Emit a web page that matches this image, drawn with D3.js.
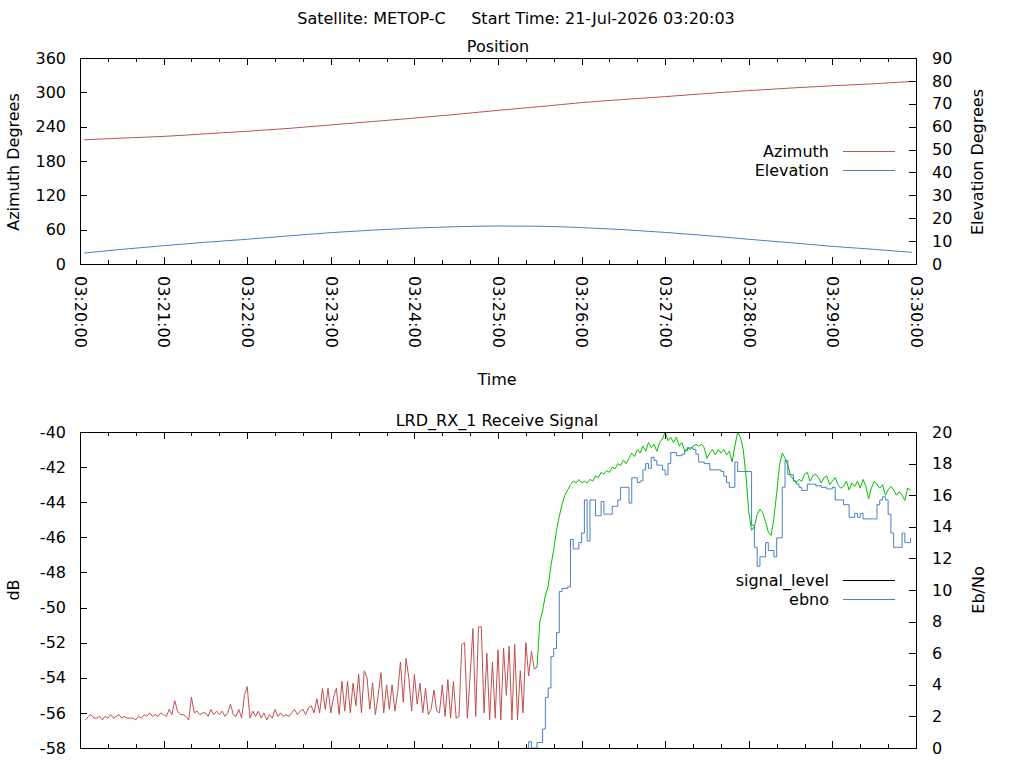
<!DOCTYPE html>
<html><head><meta charset="utf-8">
<script src="https://cdn.jsdelivr.net/npm/d3@7"></script>
<style>
html,body{margin:0;padding:0;background:#fff;}
svg{display:block;font-family:'DejaVu Sans',sans-serif;}
</style></head><body>
<svg id="c" width="1024" height="768"></svg>
<script>
// ---------------- DATA ----------------
const mainTitle = "Satellite: METOP-C     Start Time: 21-Jul-2026 03:20:03";
const topTitle = "Position";
const bottomTitle = "LRD_RX_1 Receive Signal";
const timeLabel = "Time";

// Position samples (seconds after 03:20:00)
const posTimes  = [3,30,60,90,120,150,180,210,240,270,300,330,360,390,420,450,480,510,540,570,597];
const azimuth   = [217,220,223,227.5,232,237,243,249,255,261.5,268.5,275,282,287.5,292.5,298,303,307.5,311.5,315,319];
const elevation = [4.8,6.4,8.0,9.5,10.8,12.3,13.7,14.8,15.7,16.3,16.6,16.5,15.9,15.0,13.8,12.4,10.8,9.3,7.7,6.4,5.1];

const azTicks = [0,60,120,180,240,300,360];
const elTicks = [0,10,20,30,40,50,60,70,80,90];
const dbTicks = [-58,-56,-54,-52,-50,-48,-46,-44,-42,-40];
const ebTicks = [0,2,4,6,8,10,12,14,16,18,20];

// Signal level (dB), sampled every 2 s starting at 4 s; receiver locked from 328 s
const signalStart = 4, signalStep = 2, lockTime = 328;
const signalLevel = [
 -56.4,-56.2,-56.1,-56.3,-56.3,-56.2,-56.4,-56.2,-56.3,-56.1,-56.3,-56.2,-56.1,-56.3,-56.2,-56.3,-56.3,-56.3,-56.4,-56.2,-56.3,-56.1,-56.2,-56.0,-56.2,-56.1,-56.2,-56.0,-56.1,
 -56.2,-55.8,-56.1,-55.3,-55.9,-56.1,-56.1,-56.2,-56.4,-55.1,-56.0,-55.9,-56.1,-56.0,-56.0,-56.2,-55.8,-56.1,-55.9,-56.1,-55.9,-56.2,-56.0,-55.5,-56.1,-56.2,-55.8,-56.3,-55.0,-54.5,
 -56.3,-55.9,-56.2,-55.9,-56.3,-56.0,-56.4,-56.1,-56.3,-55.8,-56.2,-56.0,-56.2,-56.1,-56.2,-56.0,-55.8,-56.1,-55.9,-55.8,-56.1,-55.7,-55.6,-56.0,
 -55.2,-56.0,-54.6,-55.8,-54.6,-56.0,-55.1,-54.6,-56.1,-54.2,-55.9,-54.2,-56.0,-54.3,-55.6,-53.8,-56.0,-53.6,-54.0,-55.8,-54.3,-56.1,-55.0,-53.7,-56.0,-54.4,-55.8,-54.4,-55.9,-54.8,
 -53.1,-55.4,-52.9,-54.0,-55.9,-53.8,-55.5,-54.3,-56.0,-54.6,-56.1,-55.8,-54.7,-55.9,-56.0,-54.4,
 -56.2,-54.1,-56.3,-54.2,-56.3,-56.2,-52.1,-52.0,-56.3,-53.9,-51.2,-56.2,-51.1,-51.1,-56.0,-52.6,-56.4,-53.1,-56.3,-52.4,-56.4,-52.3,-55.0,-52.2,-56.4,-52.1,-56.4,-53.6,-56.0,-52.0,
 -53.9,-52.5,-53.5,-53.4,
 -50.8,-50.2,-49.3,-48.8,-47.6,-46.7,-45.6,-44.8,-44.1,-43.6,-43.3,-43.0,-42.8,-42.9,-42.7,-42.9,-42.8,-42.9,-42.7,-42.8,
 -42.5,-42.6,-42.3,-42.4,-42.2,-42.3,-42.0,-42.1,-41.8,-41.9,-41.6,-41.8,-41.5,-41.2,-41.4,-41.0,-41.2,-40.8,-41.1,-40.6,
 -40.9,-40.7,-41.1,-40.6,-40.4,-40.0,-40.5,-40.3,-40.6,-40.3,-40.8,-40.6,-41.1,-40.9,-41.0,-40.8,-40.7,-40.8,-40.7,-40.9,
 -41.5,-41.2,-41.0,-41.3,-41.0,-41.2,-41.0,-41.3,-41.1,-41.7,-40.8,-40.0,-40.3,-41.0,-42.5,-44.6,-45.6,-45.4,-44.7,-44.4,
 -44.6,-45.1,-45.7,-45.9,-44.9,-43.5,-41.9,-41.2,-41.5,-41.9,-42.5,-42.7,-42.9,-42.7,-42.8,-42.4,-42.3,-42.8,-42.5,-42.4,
 -42.6,-42.9,-42.6,-42.5,-43.0,-42.8,-42.6,-43.0,-43.2,-43.1,-42.8,-43.3,-42.9,-43.1,-42.8,-43.2,-42.7,-43.1,-43.8,-43.2,
 -42.8,-43.0,-43.2,-43.0,-43.6,-43.3,-43.1,-43.3,-43.6,-43.4,-43.6,-43.9,-43.2,-43.3
];

// Eb/No, sampled every 2 s starting at 320 s
const ebnoStart = 320, ebnoStep = 2;
const ebno = [
 0.0,0.4,0.0,0.0,0.35,0.35,1.2,3.2,3.8,5.8,6.3,7.3,9.9,10.1,10.1,10.2,13.2,12.6,12.6,13.0,
 13.6,15.7,13.1,15.7,15.7,14.7,14.7,15.6,14.8,14.8,14.8,15.3,15.3,15.7,16.5,16.5,16.5,15.5,17.1,17.1,
 16.8,16.9,17.6,18.0,17.7,18.4,18.2,17.9,17.9,17.6,17.3,18.0,18.7,18.7,18.5,18.5,18.6,18.8,19.0,19.0,
 18.9,18.6,18.1,18.1,18.0,18.0,17.6,17.6,17.6,17.6,17.5,17.2,16.8,16.5,16.5,18.1,17.5,17.5,17.5,17.5,
 17.5,14.1,12.7,11.5,12.1,12.1,13.0,12.5,12.5,12.1,13.3,13.3,16.5,18.2,17.3,17.3,16.9,16.7,16.5,16.3,
 16.3,16.7,16.7,16.7,16.6,16.6,16.5,16.5,16.4,16.4,16.5,15.7,15.7,15.7,15.4,15.4,14.6,14.6,14.85,14.6,
 14.85,14.5,14.5,14.5,14.5,14.5,15.4,15.7,15.9,15.7,14.8,13.6,12.7,12.7,12.7,13.6,13.0,13.0,13.3
];

const legendTop = ["Azimuth","Elevation"];
const legendBottom = ["signal_level","ebno"];

// ---------------- STYLE ----------------
const RED = "#c0504d", BLUE = "#4a7fc0", GREEN = "#00c000";
const FS = "16px";

// ---------------- CHART ----------------
const svg = d3.select("#c");
const T0 = Date.UTC(2026,6,21,3,20,0);
const toDate = s => new Date(T0 + s*1000);
const L = 80, R = 916;
const x = d3.scaleUtc().domain([toDate(0), toDate(600)]).range([L, R]);

const P1 = {top:58, bottom:264};
const P2 = {top:432, bottom:748};
const yAz = d3.scaleLinear().domain([0,360]).range([P1.bottom,P1.top]);
const yEl = d3.scaleLinear().domain([0,90]).range([P1.bottom,P1.top]);
const yDb = d3.scaleLinear().domain([-58,-40]).range([P2.bottom,P2.top]);
const yEb = d3.scaleLinear().domain([0,20]).range([P2.bottom,P2.top]);

const defs = svg.append("defs");
[["clip1",P1],["clip2",P2]].forEach(([id,p])=>{
  defs.append("clipPath").attr("id",id).append("rect")
    .attr("x",L).attr("y",p.top).attr("width",R-L).attr("height",p.bottom-p.top);
});

function styleAxis(g){
  g.attr("font-size",FS).attr("font-family","'DejaVu Sans',sans-serif");
  g.select(".domain").remove();
  g.selectAll("line").attr("stroke","#000").attr("shape-rendering","crispEdges");
  g.selectAll("text").attr("fill","#000");
}
const minuteTicks = d3.utcMinute.every(1);
const minorTicks = d3.utcSecond.every(20);
const plainNum = d => String(d);

function timeAxes(p, withLabels){
  const gb = svg.append("g").attr("transform",`translate(0,${p.bottom})`)
    .call(d3.axisBottom(x).ticks(minuteTicks).tickSizeInner(-7).tickSizeOuter(0)
      .tickFormat(withLabels ? d3.utcFormat("%H:%M:%S") : ()=>""));
  styleAxis(gb);
  if (withLabels) {
    gb.selectAll("text").attr("y",0).attr("x",0).attr("dy","0.35em")
      .attr("text-anchor","start").attr("transform","translate(0,12) rotate(90)");
  } else gb.selectAll("text").remove();
  const gbm = svg.append("g").attr("transform",`translate(0,${p.bottom})`)
    .call(d3.axisBottom(x).ticks(minorTicks).tickSizeInner(-4).tickSizeOuter(0).tickFormat(()=>""));
  styleAxis(gbm); gbm.selectAll("text").remove();
  const gt = svg.append("g").attr("transform",`translate(0,${p.top})`)
    .call(d3.axisTop(x).ticks(minuteTicks).tickSizeInner(-7).tickSizeOuter(0).tickFormat(()=>""));
  styleAxis(gt); gt.selectAll("text").remove();
  const gtm = svg.append("g").attr("transform",`translate(0,${p.top})`)
    .call(d3.axisTop(x).ticks(minorTicks).tickSizeInner(-4).tickSizeOuter(0).tickFormat(()=>""));
  styleAxis(gtm); gtm.selectAll("text").remove();
}

function yAxes(yl, lt, yr, rt){
  const gl = svg.append("g").attr("transform",`translate(${L},0)`)
    .call(d3.axisLeft(yl).tickValues(lt).tickSizeInner(-7).tickSizeOuter(0).tickPadding(14).tickFormat(plainNum));
  styleAxis(gl);
  const gr = svg.append("g").attr("transform",`translate(${R},0)`)
    .call(d3.axisRight(yr).tickValues(rt).tickSizeInner(-7).tickSizeOuter(0).tickPadding(16).tickFormat(plainNum));
  styleAxis(gr);
}

function frame(p){
  svg.append("rect").attr("x",L).attr("y",p.top).attr("width",R-L).attr("height",p.bottom-p.top)
    .attr("fill","none").attr("stroke","#000").attr("shape-rendering","crispEdges");
}

function text(str, xx, yy, opts={}){
  const t = svg.append("text").attr("x",xx).attr("y",yy).text(str)
    .attr("font-size",FS).attr("fill","#000").attr("text-anchor",opts.anchor||"middle")
    .style("white-space","pre");
  if (opts.rotate) t.attr("transform",`rotate(${opts.rotate},${xx},${yy})`);
  return t;
}

// Titles
text(mainTitle, 516, 24);
text(topTitle, 498, 52);
text(bottomTitle, 497, 426);
text(timeLabel, 497, 385);
text("Azimuth Degrees", 19, 162, {rotate:-90});
text("Elevation Degrees", 983, 162, {rotate:-90});
text("dB", 19, 590, {rotate:-90});
text("Eb/No", 984, 590, {rotate:-90});

// ---- Top plot ----
const posData = posTimes.map((t,i)=>({t, az:azimuth[i], el:elevation[i]}));
const g1 = svg.append("g").attr("clip-path","url(#clip1)");
g1.append("path").datum(posData).attr("fill","none").attr("stroke",RED).attr("stroke-width",1)
  .attr("d", d3.line().x(d=>x(toDate(d.t))).y(d=>yAz(d.az)).curve(d3.curveMonotoneX));
g1.append("path").datum(posData).attr("fill","none").attr("stroke",BLUE).attr("stroke-width",1)
  .attr("d", d3.line().x(d=>x(toDate(d.t))).y(d=>yEl(d.el)).curve(d3.curveMonotoneX));
timeAxes(P1, true);
yAxes(yAz, azTicks, yEl, elTicks);
frame(P1);

// ---- Bottom plot ----
const sigData = signalLevel.map((v,i)=>({t: signalStart + i*signalStep, v}));
const ebData = ebno.map((v,i)=>({t: ebnoStart + i*ebnoStep, v}));
const g2 = svg.append("g").attr("clip-path","url(#clip2)");
g2.append("path").datum(ebData).attr("fill","none").attr("stroke",BLUE).attr("stroke-width",1)
  .attr("d", d3.line().x(d=>x(toDate(d.t))).y(d=>yEb(d.v)).curve(d3.curveStepAfter));
const sigLine = d3.line().x(d=>x(toDate(d.t))).y(d=>yDb(d.v));
g2.append("path").datum(sigData.filter(d=>d.t<=lockTime)).attr("fill","none").attr("stroke",RED).attr("stroke-width",1)
  .attr("d", sigLine);
g2.append("path").datum(sigData.filter(d=>d.t>=lockTime)).attr("fill","none").attr("stroke",GREEN).attr("stroke-width",1)
  .attr("d", sigLine);
timeAxes(P2, false);
yAxes(yDb, dbTicks, yEb, ebTicks);
frame(P2);

// ---- Legends ----
function legend(items, colors, y0){
  items.forEach((name,i)=>{
    const yy = y0 + i*19;
    text(name, 829, yy+5.5, {anchor:"end"});
    svg.append("line").attr("x1",843).attr("x2",895).attr("y1",yy).attr("y2",yy)
      .attr("stroke",colors[i]).attr("stroke-width",1).attr("shape-rendering","crispEdges");
  });
}
legend(legendTop, [RED, BLUE], 151);
legend(legendBottom, ["#000", BLUE], 580);
</script>
</body></html>
